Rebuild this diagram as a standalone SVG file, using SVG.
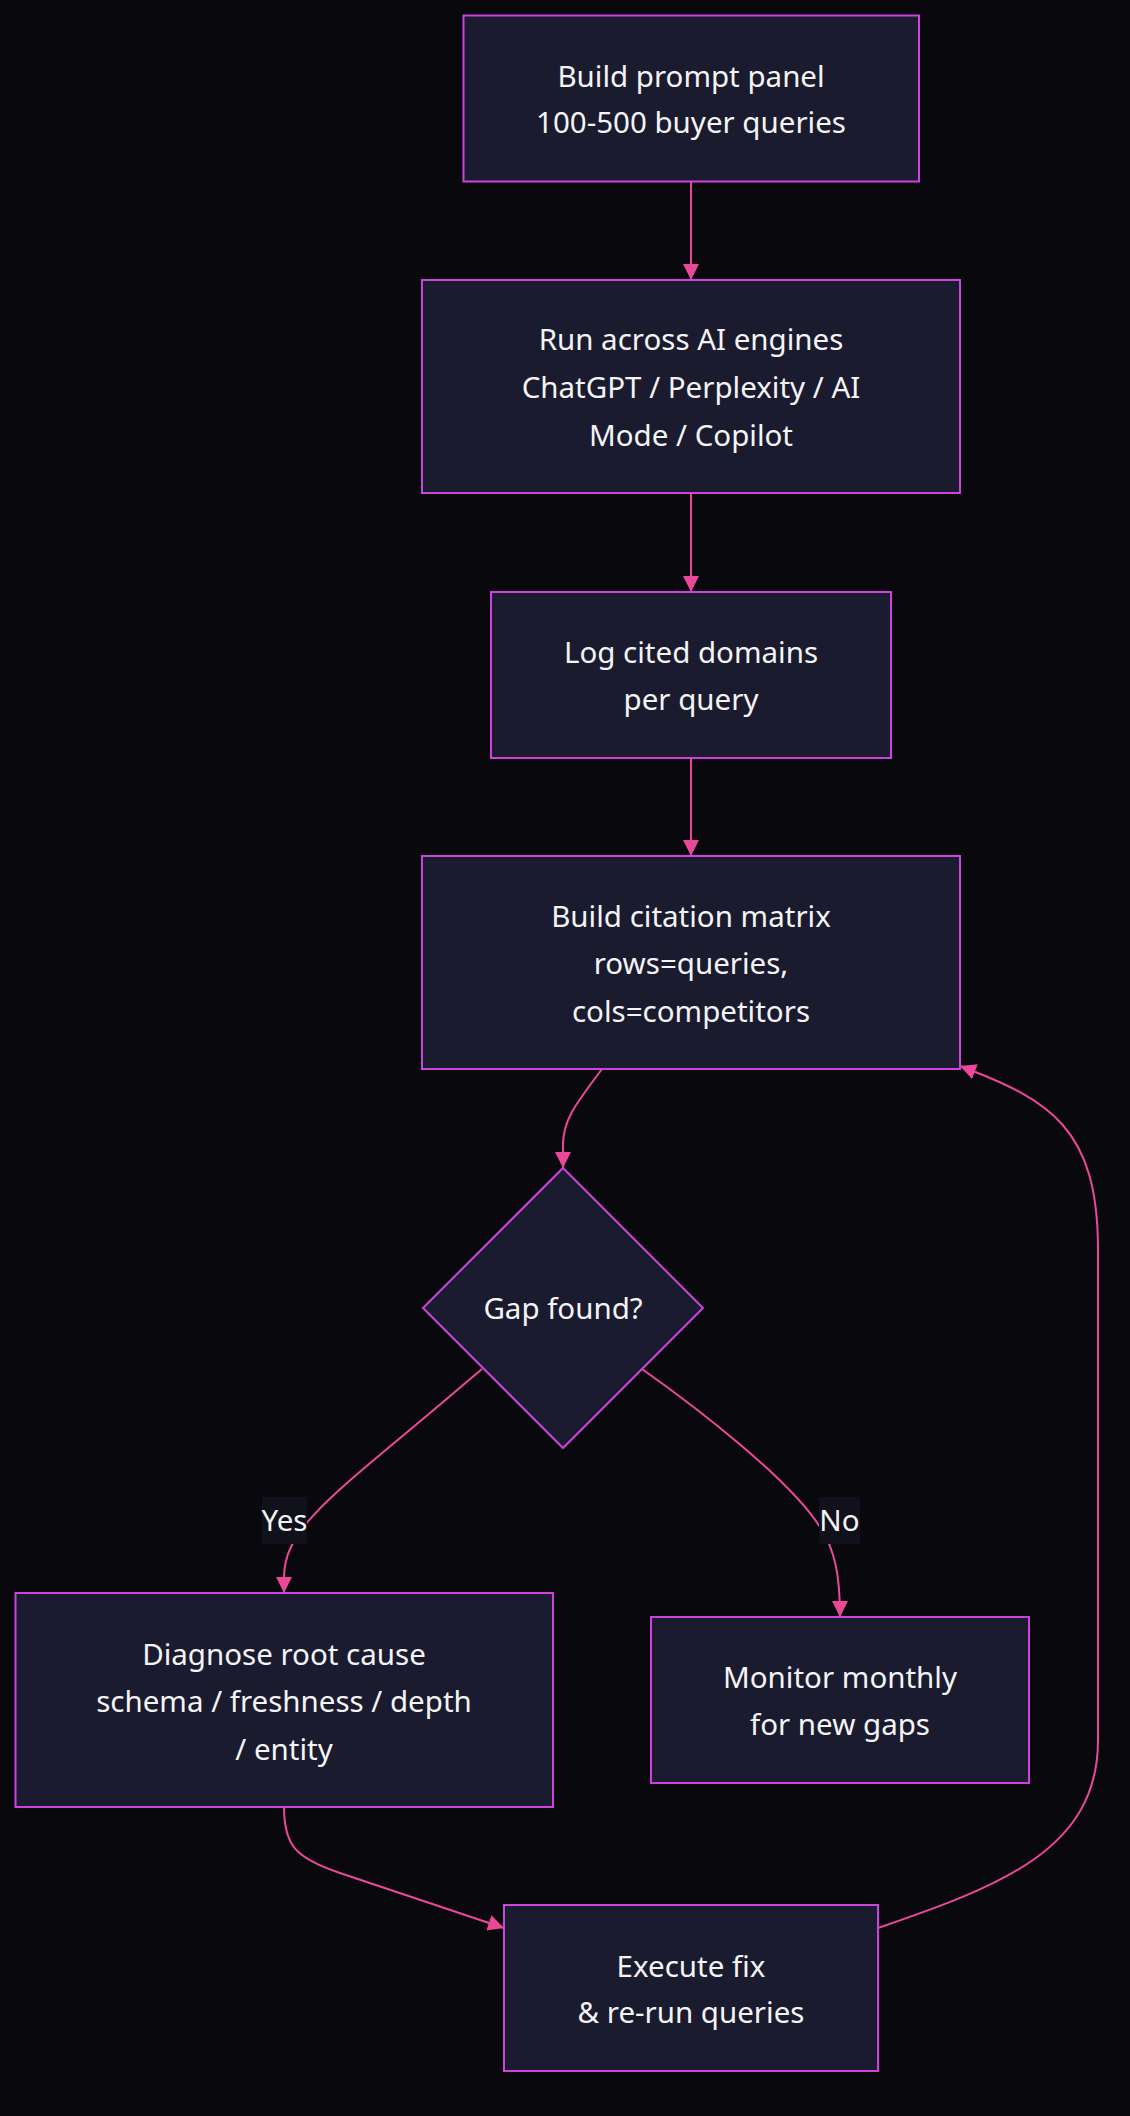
<svg xmlns="http://www.w3.org/2000/svg" width="1130" height="2116" viewBox="0 0 1130 2116">
<style>
.node rect,.node polygon{fill:#1a1b2e;stroke:#cc44dd;stroke-width:2}
.lbl{font-family:"Noto Sans","Open Sans",sans-serif;font-size:29.5px;fill:#f4f4f6;text-anchor:middle}
.edge{fill:none;stroke:#ec4899;stroke-width:2}
.elbg{fill:#11111c}
</style>
<defs>
<marker id="arr" markerUnits="userSpaceOnUse" markerWidth="16" markerHeight="16" refX="16" refY="8" orient="auto">
<path d="M0,0 L16,8 L0,16 z" fill="#ec4899"/>
</marker>
</defs>
<rect x="0" y="0" width="1130" height="2116" fill="#09090d"/>
<g id="connectors">
<path class="edge" d="M691,182 L691,280" marker-end="url(#arr)"/>
<path class="edge" d="M691,493 L691,592" marker-end="url(#arr)"/>
<path class="edge" d="M691,758 L691,856" marker-end="url(#arr)"/>
<path class="edge" d="M602,1069 C575,1105 563,1120 563,1145 L563,1168" marker-end="url(#arr)"/>
<path class="edge" d="M482,1369 L430,1413 C330,1497 284,1530 284,1577 L284,1593" marker-end="url(#arr)"/>
<path class="edge" d="M642,1369 C700,1410 790,1480 820,1527 C835,1550 840,1575 840,1617" marker-end="url(#arr)"/>
<path class="edge" d="M284,1807 C284,1845 295,1858 340,1873 L504,1928" marker-end="url(#arr)"/>
<path class="edge" d="M878,1928 C1000,1886 1098,1850 1098,1740 L1098,1250 C1098,1128 1050,1100 960,1066" marker-end="url(#arr)"/>
<g id="label-yes">
<rect class="elbg" x="262" y="1497" width="45" height="47"/>
<text class="lbl" x="284.5" y="1531">Yes</text>
</g>
<g id="label-no">
<rect class="elbg" x="819" y="1497" width="41" height="47"/>
<text class="lbl" x="839.5" y="1531">No</text>
</g>
</g>
<g id="n1" class="node">
<rect x="463.5" y="15.5" width="455.5" height="166"/>
<text class="lbl" x="691" y="87">Build prompt panel</text>
<text class="lbl" x="691" y="133">100-500 buyer queries</text>
</g>
<g id="n2" class="node">
<rect x="422" y="280" width="538" height="213"/>
<text class="lbl" x="691" y="350">Run across AI engines</text>
<text class="lbl" x="691" y="398">ChatGPT / Perplexity / AI</text>
<text class="lbl" x="691" y="446">Mode / Copilot</text>
</g>
<g id="n3" class="node">
<rect x="491" y="592" width="400" height="166"/>
<text class="lbl" x="691" y="663">Log cited domains</text>
<text class="lbl" x="691" y="710">per query</text>
</g>
<g id="n4" class="node">
<rect x="422" y="856" width="538" height="213"/>
<text class="lbl" x="691" y="927">Build citation matrix</text>
<text class="lbl" x="691" y="974">rows=queries,</text>
<text class="lbl" x="691" y="1022">cols=competitors</text>
</g>
<g id="n5" class="node">
<polygon points="563,1168 703,1308 563,1448 423,1308"/>
<text class="lbl" x="563" y="1319">Gap found?</text>
</g>
<g id="n6" class="node">
<rect x="15.5" y="1593" width="537.5" height="214"/>
<text class="lbl" x="284" y="1665">Diagnose root cause</text>
<text class="lbl" x="284" y="1712">schema / freshness / depth</text>
<text class="lbl" x="284" y="1760">/ entity</text>
</g>
<g id="n7" class="node">
<rect x="651" y="1617" width="378" height="166"/>
<text class="lbl" x="840" y="1688">Monitor monthly</text>
<text class="lbl" x="840" y="1735">for new gaps</text>
</g>
<g id="n8" class="node">
<rect x="504" y="1905" width="374" height="166"/>
<text class="lbl" x="691" y="1977">Execute fix</text>
<text class="lbl" x="691" y="2023">&amp; re-run queries</text>
</g>
</svg>
